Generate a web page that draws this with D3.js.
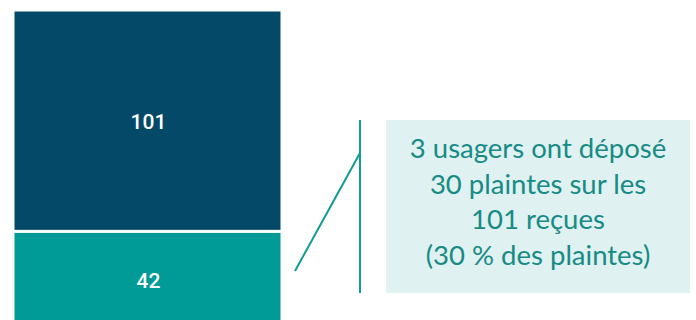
<!DOCTYPE html>
<html><head><meta charset="utf-8">
<script src="https://cdn.jsdelivr.net/npm/d3@7"></script>
<style>body{margin:0;background:#fff}svg{display:block}</style>
</head><body>
<svg id="c" width="696" height="320"></svg>
<script>
const categories = ["Plaintes reçues", "Autres"];
const segmentLabels = ["101", "42"];
const values = [101, 42];
const segmentColors = ["#044a68", "#009a97"];
const noteLines = ["3 usagers ont déposé", "30 plaintes sur les", "101 reçues", "(30 % des plaintes)"];

const svg = d3.select("#c");
const total = d3.sum(values);
const y = d3.scaleLinear().domain([0, total]).range([323.5, 10]);
const x = d3.scaleBand().domain(["bar"]).range([13, 282]).padding(0);

let acc = total;
const segs = values.map((v, i) => { const s = {v, i, top: acc, bot: acc - v}; acc -= v; return s; });

svg.selectAll("rect.seg").data(segs).join("rect")
  .attr("class", "seg")
  .attr("x", x("bar")).attr("width", x.bandwidth())
  .attr("y", d => y(d.top)).attr("height", d => y(d.bot) - y(d.top))
  .attr("fill", d => segmentColors[d.i])
  .attr("stroke", "#fff").attr("stroke-width", 3);

svg.selectAll("text.lbl").data(segs).join("text")
  .attr("class", "lbl")
  .attr("x", x("bar") + x.bandwidth() / 2 + 1)
  .attr("y", d => d.i === 0 ? (y(d.top) + y(d.bot)) / 2 + 1 : 281)
  .attr("dy", "0.35em")
  .attr("text-anchor", "middle")
  .attr("fill", "#fff")
  .attr("font-family", "Roboto, sans-serif").attr("font-weight", 500)
  .attr("font-size", 21)
  .text(d => segmentLabels[d.i]);

// annotation
const teal = "#119b96";
svg.append("line").attr("x1", 295).attr("y1", 271).attr("x2", 360).attr("y2", 153)
  .attr("stroke", teal).attr("stroke-width", 2);
svg.append("line").attr("x1", 360).attr("y1", 120).attr("x2", 360).attr("y2", 293)
  .attr("stroke", teal).attr("stroke-width", 2);
svg.append("rect").attr("x", 386).attr("y", 120).attr("width", 304).attr("height", 173)
  .attr("fill", "#dff1f0");
svg.selectAll("text.note").data(noteLines).join("text")
  .attr("class", "note")
  .attr("x", 538).attr("y", (d, i) => 158 + i * 35.5)
  .attr("text-anchor", "middle")
  .attr("fill", "#178b85")
  .attr("font-family", "Lato, sans-serif")
  .attr("font-size", 27.5)
  .text(d => d);
</script>
</body></html>
